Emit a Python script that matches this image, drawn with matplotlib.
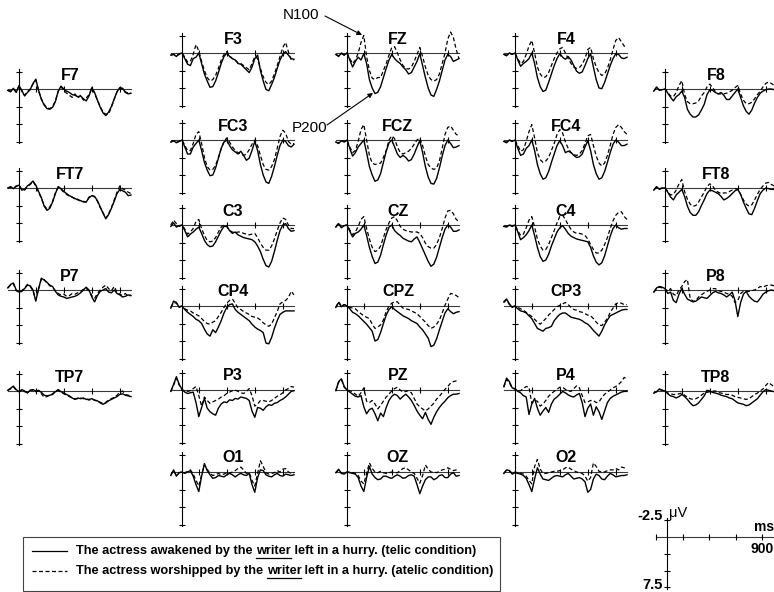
import matplotlib
matplotlib.use("Agg")
import matplotlib.pyplot as plt
from matplotlib.lines import Line2D
from matplotlib.patches import Rectangle, FancyArrowPatch

plt.rcParams['font.family'] = ['Liberation Sans', 'DejaVu Sans']

W, H = 774, 592

# sample times (ms), 25 ms steps
times = [-100, -75, -50, -25, 0, 25, 50, 75, 100, 125, 150, 175, 200, 225, 250,
         275, 300, 325, 350, 375, 400, 425, 450, 475, 500, 525, 550, 575, 600,
         625, 650, 675, 700, 725, 750, 775, 800, 825, 850, 875, 900, 925, 950,
         975, 1000]
xticks_ms = [150, 400, 650, 900]
yticks_uv = [-2.5, 2.5, 5.0, 7.5]

# grand averages in microvolts (negative up), telic = solid, atelic = dashed
F3_telic = [0.3, 0.2, 0.5, 0.1, 0.0, 0.8, 1.6, 1.8, 0.8, 0.6, 0.0, 1.5, 3.0, 4.0, 4.9, 4.8, 4.0, 2.8, 1.5, 0.5, 0.0, 0.5, 0.8, 1.0, 1.5, 1.6, 2.0, 2.4, 2.8, 2.0, 0.8, 0.3, 2.5, 4.0, 5.2, 5.4, 4.5, 3.5, 2.2, 1.0, 0.2, -0.2, 0.3, 0.8, 0.9]
F3_atelic = [0.3, 0.2, 0.4, 0.2, 0.0, 0.6, 1.3, 1.2, 0.2, -1.2, -0.3, 1.2, 2.5, 3.5, 4.0, 3.8, 3.2, 2.2, 1.0, 0.2, -0.2, 0.4, 0.8, 1.0, 1.4, 1.5, 1.8, 2.1, 2.4, 1.5, 0.5, 0.8, 2.2, 3.4, 4.2, 4.5, 4.0, 3.0, 1.8, 0.5, -0.8, -1.5, -0.2, 1.0, 1.0]
FZ_telic = [0.2, 0.5, 0.0, 0.3, 0.0, 1.0, 2.0, 1.2, 0.6, 1.0, 0.1, 1.5, 3.8, 5.0, 5.8, 5.6, 4.8, 3.5, 2.2, 1.0, 0.2, 0.8, 1.2, 1.5, 2.0, 2.4, 3.0, 2.8, 2.0, 1.2, 0.1, 1.8, 3.5, 5.0, 6.0, 6.2, 5.2, 4.0, 2.5, 1.0, 0.2, 0.5, 1.2, 1.0, 0.8]
FZ_atelic = [0.2, 0.4, 0.1, 0.3, 0.0, 0.8, 1.5, 1.0, 0.0, -1.5, -2.5, 0.5, 2.5, 3.6, 3.8, 3.5, 3.5, 2.5, 1.5, 0.3, -0.8, -0.9, 0.0, 1.0, 1.8, 2.2, 2.3, 2.0, 1.2, 0.2, -0.8, 0.5, 2.0, 3.2, 3.8, 4.0, 3.8, 3.0, 1.5, 0.0, -2.0, -3.0, -2.2, -0.5, 0.8]
F4_telic = [0.2, 0.4, 0.0, 0.2, 0.0, 1.0, 1.9, 1.5, 1.2, 0.8, 0.0, 1.5, 3.5, 4.8, 5.5, 5.3, 4.2, 3.0, 1.8, 0.8, 0.1, 0.6, 0.9, 0.5, 1.0, 1.8, 2.6, 2.9, 2.7, 1.8, 0.8, 0.1, 2.0, 3.8, 5.0, 5.1, 4.2, 3.0, 1.8, 0.8, 0.1, 0.2, 0.7, 0.8, 0.6]
F4_atelic = [0.2, 0.3, 0.0, 0.2, 0.0, 0.8, 1.5, 1.2, 0.2, -1.0, -1.8, 0.0, 2.0, 3.0, 3.5, 3.4, 2.8, 1.8, 0.8, 0.0, -0.6, -0.8, 0.0, 0.8, 1.5, 2.0, 2.2, 2.1, 1.6, 0.8, -0.5, -0.8, 0.8, 2.0, 2.8, 3.2, 3.0, 2.2, 1.0, -0.5, -1.8, -2.2, -1.6, -1.0, -0.8]
FC3_telic = [0.3, 0.1, 0.4, 0.2, 0.0, 1.0, 2.0, 2.0, 1.0, 0.5, 0.0, 1.5, 3.2, 4.3, 5.1, 5.0, 4.0, 2.6, 1.2, 0.3, 0.0, 0.8, 1.4, 1.7, 2.0, 1.6, 2.2, 2.9, 2.6, 1.5, 0.2, 1.5, 3.5, 5.0, 6.0, 6.2, 5.2, 3.8, 2.2, 0.8, 0.0, 0.2, 0.8, 1.0, 0.6]
FC3_atelic = [0.3, 0.1, 0.3, 0.2, 0.0, 0.8, 1.5, 1.5, 0.5, -0.8, -1.2, 0.5, 2.5, 3.8, 4.3, 4.2, 3.6, 2.5, 1.2, 0.2, -0.3, 0.3, 1.0, 1.5, 1.8, 2.0, 2.2, 2.0, 1.4, 0.6, 0.0, 0.8, 2.2, 3.5, 4.2, 4.3, 3.8, 2.8, 1.2, -0.5, -1.4, -1.0, 0.2, 0.6, 0.5]
FCZ_telic = [0.3, 0.5, 0.1, 0.3, 0.0, 1.2, 2.3, 1.8, 1.0, 0.5, 0.0, 1.8, 3.8, 5.0, 5.9, 5.7, 4.8, 3.2, 1.6, 0.4, 0.0, 1.0, 2.0, 2.5, 2.2, 2.5, 3.0, 2.8, 2.0, 1.0, 0.1, 1.8, 3.8, 5.3, 6.2, 6.3, 5.5, 4.0, 2.3, 0.8, 0.0, 0.5, 1.1, 1.0, 0.8]
FCZ_atelic = [0.3, 0.4, 0.1, 0.2, 0.0, 1.0, 1.8, 1.5, 0.2, -1.5, -2.2, 0.0, 2.2, 3.3, 3.5, 3.4, 3.3, 2.5, 1.5, 0.0, -0.6, -0.2, 1.0, 1.8, 2.0, 1.8, 1.6, 1.2, 0.6, 0.0, -0.3, 0.8, 2.3, 3.5, 4.0, 4.2, 4.0, 3.0, 1.2, -0.8, -1.8, -2.0, -1.4, -0.8, -0.6]
FC4_telic = [0.2, 0.4, 0.0, 0.2, 0.0, 1.2, 2.2, 2.0, 1.2, 0.8, 0.0, 1.5, 3.5, 4.8, 5.6, 5.4, 4.5, 3.2, 2.0, 0.8, 0.1, 0.8, 1.8, 1.6, 1.8, 2.2, 2.5, 2.4, 2.0, 1.0, 0.1, 1.5, 3.5, 4.8, 5.6, 5.4, 4.5, 3.2, 1.8, 0.6, 0.0, 0.3, 0.8, 0.8, 0.6]
FC4_atelic = [0.2, 0.3, 0.0, 0.2, 0.0, 0.8, 1.6, 1.4, 0.2, -1.2, -2.2, -0.3, 1.8, 2.8, 3.2, 3.0, 2.5, 1.5, 0.5, -0.8, -1.5, -1.0, 0.3, 1.2, 1.8, 2.1, 2.2, 2.0, 1.5, 0.5, -0.6, -0.8, 0.8, 2.3, 3.3, 3.7, 3.3, 2.2, 0.8, -0.8, -1.8, -2.2, -1.8, -1.2, -0.8]
C3_telic = [0.2, -0.3, 0.3, 0.1, 0.0, 0.8, 1.7, 1.3, 1.0, 0.6, 0.3, 1.2, 2.2, 2.8, 3.1, 3.0, 2.4, 1.6, 0.8, 0.2, 0.2, 0.8, 1.2, 1.0, 1.4, 1.6, 1.8, 1.9, 2.0, 2.1, 2.4, 3.0, 3.8, 4.9, 5.8, 6.0, 5.2, 3.8, 2.2, 0.8, 0.0, -0.2, 0.5, 0.9, 0.8]
C3_atelic = [0.0, -0.7, -0.2, 0.2, 0.0, 0.6, 1.3, 1.0, 0.5, -0.5, -0.8, 0.5, 1.5, 2.2, 2.4, 2.3, 1.8, 1.0, 0.3, 0.0, 0.2, 0.8, 1.0, 1.1, 1.0, 1.0, 1.2, 1.3, 1.4, 1.3, 1.2, 1.8, 2.6, 3.2, 3.6, 3.6, 3.0, 2.0, 0.8, -0.3, -1.0, -0.8, 0.0, 0.5, 0.5]
CZ_telic = [0.3, -0.2, 0.4, 0.1, 0.0, 0.9, 1.7, 1.2, 1.0, 0.6, 0.0, 1.5, 3.2, 4.5, 5.5, 5.3, 4.3, 2.8, 1.4, 0.3, 0.0, 0.8, 1.2, 1.5, 1.9, 2.1, 2.3, 2.4, 2.0, 1.7, 2.5, 3.4, 4.3, 5.2, 5.9, 5.6, 4.6, 3.2, 1.8, 0.6, 0.0, 0.3, 0.9, 0.9, 0.7]
CZ_atelic = [0.3, -0.3, 0.3, 0.1, 0.0, 0.7, 1.4, 1.0, 0.2, -0.8, -1.2, 0.5, 2.0, 3.2, 3.8, 3.6, 3.0, 1.8, 0.6, -0.3, -1.0, -1.2, -0.6, 0.2, 0.6, 0.8, 0.9, 1.0, 1.0, 1.0, 1.2, 1.8, 2.6, 3.1, 3.3, 3.3, 2.8, 1.8, 0.5, -1.0, -2.0, -2.1, -1.6, -0.8, -0.5]
C4_telic = [0.2, 0.3, 0.0, 0.2, 0.0, 1.0, 2.1, 1.8, 1.4, 0.8, 0.0, 1.5, 3.2, 4.5, 5.2, 5.0, 4.2, 3.0, 2.0, 1.0, 0.4, 0.1, 0.6, 1.2, 1.6, 1.8, 2.0, 2.1, 2.2, 2.3, 2.4, 3.2, 4.4, 5.3, 5.7, 5.4, 4.4, 3.0, 1.6, 0.5, 0.0, 0.4, 0.6, 0.5, 0.5]
C4_atelic = [0.2, 0.2, 0.0, 0.1, 0.0, 0.8, 1.5, 1.3, 0.4, -0.7, -1.2, 0.3, 2.0, 3.0, 3.6, 3.5, 2.8, 1.8, 0.8, -0.3, -1.2, -1.4, -0.8, 0.0, 0.6, 1.0, 1.2, 1.2, 1.3, 1.5, 2.0, 2.8, 3.5, 4.0, 4.0, 3.6, 2.8, 1.8, 0.5, -0.6, -1.4, -1.8, -1.9, -1.2, -0.8]
CP4_telic = [0.3, -0.7, -0.5, 0.2, 0.0, 0.5, 0.9, 1.2, 1.5, 1.9, 2.1, 2.5, 3.3, 4.0, 4.3, 3.4, 3.8, 3.0, 2.1, 1.0, 0.2, -0.2, -0.3, 0.5, 0.9, 1.2, 1.5, 1.8, 2.1, 2.6, 3.0, 3.3, 3.5, 3.8, 5.3, 5.4, 4.5, 3.2, 2.1, 1.2, 0.9, 0.7, 0.7, 0.7, 0.7]
CP4_atelic = [0.2, -0.5, -0.4, 0.1, 0.0, 0.4, 0.6, 0.7, 1.0, 1.2, 1.4, 1.8, 2.2, 2.5, 2.6, 2.3, 2.1, 1.5, 0.9, 0.2, -0.4, -0.8, -1.0, -0.4, 0.3, 0.5, 0.8, 1.0, 1.2, 1.5, 1.6, 1.7, 2.0, 2.4, 2.7, 2.9, 2.6, 1.7, 0.8, -0.3, -0.6, -0.8, -1.2, -2.1, -1.6]
CPZ_telic = [0.2, -0.5, 0.1, -0.2, 0.0, 0.4, 0.9, 1.1, 1.4, 1.8, 2.2, 2.6, 3.1, 3.6, 5.0, 4.8, 3.8, 2.5, 1.3, 0.5, 0.1, 0.5, 0.8, 1.1, 1.4, 1.6, 1.8, 2.1, 2.3, 2.5, 3.0, 3.4, 4.0, 4.6, 5.8, 5.6, 4.7, 3.4, 2.2, 1.0, 0.4, 0.8, 1.1, 0.9, 0.8]
CPZ_atelic = [0.2, -0.6, 0.0, -0.2, 0.0, 0.2, 0.3, 0.4, 0.8, 1.1, 1.4, 1.6, 1.8, 2.6, 3.2, 3.0, 2.7, 2.0, 0.8, 0.0, -0.4, -0.6, -0.6, -0.1, 0.3, 0.4, 0.5, 0.7, 0.9, 1.1, 1.5, 1.9, 2.3, 2.8, 3.2, 3.0, 2.6, 2.0, 1.0, -0.1, -1.0, -1.8, -1.7, -1.5, -1.2]
CP3_telic = [-0.6, -1.0, -0.3, 0.2, 0.0, 0.4, 0.7, 0.8, 1.0, 1.4, 1.8, 2.5, 3.2, 3.4, 3.6, 3.2, 3.1, 2.9, 2.1, 1.6, 1.2, 1.0, 1.0, 1.3, 1.6, 1.7, 1.8, 1.9, 2.1, 2.4, 2.6, 3.0, 3.5, 3.9, 4.3, 3.6, 2.7, 2.0, 1.4, 1.2, 1.0, 0.8, 0.6, 0.5, 0.5]
CP3_atelic = [-0.5, -0.9, -0.2, 0.1, 0.0, 0.2, 0.4, 0.6, 0.9, 1.2, 1.5, 1.9, 2.3, 2.6, 2.2, 1.8, 1.3, 0.9, 0.5, 0.1, -0.1, -0.3, -0.5, -0.2, 0.2, 0.5, 0.6, 0.8, 0.9, 1.1, 1.3, 1.4, 1.8, 2.3, 2.7, 2.8, 2.3, 1.8, 0.9, 0.3, -0.3, -0.5, -0.4, -0.2, -0.2]
P3_telic = [0.2, -0.8, -1.9, -0.8, -0.1, 0.3, 0.5, 0.4, 0.3, 1.8, 3.8, 2.5, 1.2, 2.6, 3.1, 3.4, 3.6, 2.6, 2.0, 1.7, 1.8, 1.4, 1.5, 1.2, 1.3, 1.0, 1.1, 1.2, 1.5, 3.0, 3.9, 2.5, 2.6, 2.9, 2.4, 2.1, 2.2, 1.9, 1.8, 1.5, 1.3, 1.0, 0.6, 0.2, 0.1]
P3_atelic = [0.2, -0.7, -1.7, -0.7, 0.0, 0.1, 0.2, 0.1, -0.2, -0.5, 0.8, 2.3, 1.0, 1.5, 1.9, 1.7, 1.5, 1.3, 1.0, 0.8, 0.5, 0.3, 0.1, 0.0, 0.2, 0.4, 0.5, 0.2, -0.2, 0.8, 2.3, 2.0, 1.5, 1.5, 1.6, 1.7, 1.5, 1.2, 0.9, 0.7, 0.4, 0.0, -0.2, -0.5, -0.4]
PZ_telic = [0.1, -1.2, -1.6, -0.5, 0.0, 0.3, 0.6, 0.9, 1.0, 0.8, 2.4, 3.4, 2.8, 2.6, 3.4, 4.4, 3.3, 3.8, 2.5, 1.5, 0.9, 0.6, 0.8, 1.3, 0.9, 0.6, 1.0, 1.5, 2.2, 3.0, 3.6, 4.1, 3.2, 4.2, 4.9, 3.9, 3.1, 2.5, 2.0, 1.6, 1.1, 0.8, 0.6, 0.6, 0.5]
PZ_atelic = [0.1, -1.1, -1.5, -0.4, 0.0, 0.1, 0.3, 0.6, 0.9, 0.4, -0.3, 1.6, 1.8, 1.5, 2.0, 2.7, 2.2, 1.6, 1.0, 0.6, 0.1, -0.2, -0.4, 0.0, 0.3, 0.2, 0.1, 0.4, 1.2, 2.0, 2.4, 2.7, 3.0, 2.7, 2.3, 1.9, 1.3, 0.9, 0.4, -0.1, -0.5, -1.0, -1.2, -1.3, -1.2]
P4_telic = [-0.5, -1.7, -1.2, -0.3, -0.2, 0.2, 0.4, 0.8, 1.0, 3.5, 2.0, 1.2, 2.6, 3.6, 3.0, 2.5, 3.2, 2.0, 1.3, 1.0, 0.6, 0.2, 0.4, 0.7, 0.9, 1.0, 0.7, 0.5, 1.8, 3.8, 2.6, 2.0, 3.6, 2.4, 3.1, 4.2, 3.0, 1.8, 1.2, 0.9, 0.7, 0.5, 0.3, 0.2, 0.2]
P4_atelic = [-0.4, -1.5, -1.0, -0.3, -0.1, 0.2, 0.1, -0.2, -0.5, -0.4, 1.9, 1.5, 1.6, 2.3, 2.0, 1.5, 0.9, 0.5, 0.2, -0.1, -0.4, -0.4, -0.1, 0.1, 0.2, -0.2, -0.6, -0.3, 0.8, 1.8, 1.7, 1.5, 1.5, 1.8, 1.7, 1.1, 0.6, 0.3, 0.0, -0.3, -0.5, -0.8, -1.2, -1.8, -1.6]
O1_telic = [0.5, -0.3, 0.6, 0.1, 0.0, 0.2, 0.0, -0.2, 0.6, 1.8, 2.8, 0.6, -1.2, -0.2, 0.4, 0.9, 0.8, 0.5, 0.6, 0.7, 0.4, 0.2, 0.4, 0.7, 0.4, 0.2, 0.4, 0.5, 0.2, 1.8, 2.9, 0.8, -0.3, -0.2, 0.4, 0.6, 0.7, 0.4, 0.2, 0.5, 0.6, 0.3, 0.4, 0.5, 0.4]
O1_atelic = [0.4, -0.2, 0.5, 0.1, 0.0, 0.1, -0.1, -0.3, 0.3, 1.2, 2.0, 0.4, -1.0, -0.4, 0.2, 0.5, 0.4, 0.2, 0.4, 0.3, 0.1, 0.2, 0.0, -0.2, -0.5, -0.7, -0.3, 0.2, 0.1, 1.2, 2.0, 0.2, -1.6, -0.8, 0.1, 0.3, 0.2, 0.1, -0.2, 0.0, -0.4, -0.5, 0.0, 0.2, 0.1]
OZ_telic = [0.1, -0.4, 0.2, 0.3, 0.0, 0.1, 0.2, 0.3, 0.8, 2.0, 2.8, 0.8, -0.8, 0.3, 0.8, 1.1, 1.0, 0.6, 0.6, 0.8, 0.9, 0.6, 0.4, 0.6, 0.9, 0.8, 0.5, 0.4, 0.6, 1.8, 3.1, 2.0, 1.1, 0.7, 0.7, 1.1, 0.9, 0.5, 0.4, 0.8, 0.8, 0.3, 0.1, 0.6, 0.5]
OZ_atelic = [0.1, -0.3, 0.2, 0.2, 0.0, 0.0, 0.1, 0.2, 0.5, 1.3, 1.7, 0.2, -1.3, -0.5, 0.0, 0.1, -0.1, 0.1, 0.2, 0.1, 0.0, 0.1, 0.1, -0.2, -0.5, -0.6, -0.3, 0.0, 0.2, 0.9, 1.6, 0.5, -1.0, -0.4, 0.0, 0.0, 0.1, -0.1, -0.3, -0.4, -0.6, -0.4, -0.2, -0.3, -0.2]
O2_telic = [0.2, -0.3, -0.2, 0.3, 0.1, 0.2, 0.3, 0.5, 0.9, 1.8, 2.8, 1.0, -0.6, 0.3, 1.0, 1.1, 1.2, 0.9, 0.6, 0.5, 0.6, 0.7, 0.4, 0.2, 0.6, 1.0, 0.9, 0.8, 1.0, 1.4, 2.9, 2.5, 1.0, 0.3, 0.5, 1.0, 1.1, 0.6, 0.2, 0.4, 0.7, 0.6, 0.5, 0.5, 0.4]
O2_atelic = [0.2, -0.3, -0.2, 0.2, 0.0, 0.1, 0.2, 0.3, 0.6, 1.2, 1.7, -0.8, -1.8, -0.4, 0.2, 0.2, 0.1, 0.0, -0.1, -0.1, -0.2, -0.3, -0.6, -0.7, -0.4, -0.2, 0.0, 0.1, 0.2, 0.6, 1.3, 0.8, -1.3, -0.8, -0.1, 0.0, 0.0, -0.2, -0.3, -0.3, -0.5, -0.3, -0.7, -0.6, -0.5]
F7_telic = [0.2, 0.4, -0.1, 0.5, -0.5, 0.2, 1.0, 0.5, 0.1, -0.8, -1.4, 0.2, 1.5, 2.3, 2.8, 2.9, 2.6, 1.8, 0.3, -0.4, 0.0, 0.3, 0.5, 0.8, 0.9, 1.1, 1.0, 1.4, 1.7, 1.0, -0.2, 0.5, 1.6, 2.6, 3.4, 3.8, 3.3, 2.5, 1.4, 0.4, -0.2, -0.1, 0.5, 0.7, 0.6]
F7_atelic = [0.2, 0.3, 0.0, 0.4, -0.4, 0.3, 0.9, 0.4, 0.0, -0.7, -1.3, 0.3, 1.4, 2.2, 2.7, 2.8, 2.5, 1.7, 0.3, -0.3, 0.2, 0.6, 0.9, 1.2, 0.7, 1.3, 0.9, 1.6, 1.3, 0.8, -0.1, 0.6, 1.6, 2.5, 3.3, 3.6, 3.6, 2.6, 1.5, 0.4, -0.1, 0.0, 0.4, 0.6, 0.6]
FT7_telic = [0.0, -0.2, 0.1, -0.3, -0.4, 0.3, 0.2, -0.3, -0.6, -1.0, -0.4, 0.5, 1.4, 2.6, 3.2, 2.9, 2.0, 0.8, -0.2, 0.1, 0.5, 0.8, 1.1, 1.3, 1.5, 1.7, 1.8, 2.0, 2.0, 1.4, 1.1, 1.2, 1.8, 2.7, 3.6, 4.4, 3.8, 2.9, 1.9, 0.8, 0.2, 0.4, 0.6, 1.1, 1.0]
FT7_atelic = [0.0, -0.1, 0.0, -0.2, -0.4, 0.2, 0.3, -0.2, -0.5, -0.9, -0.3, 0.6, 1.5, 2.5, 3.0, 2.7, 1.9, 0.7, -0.1, 0.2, 0.6, 0.9, 1.2, 1.3, 1.6, 1.6, 1.9, 1.9, 2.0, 1.3, 1.0, 1.3, 1.9, 2.8, 3.5, 4.3, 3.7, 2.8, 1.7, 0.6, -0.3, 0.1, 0.3, 0.6, 0.8]
P7_telic = [-0.3, -0.8, -1.0, 0.0, 0.3, 0.2, -0.2, -0.7, -0.6, 0.0, 1.6, -0.2, -1.7, -1.4, -1.1, -0.7, -0.5, 0.2, 0.7, 0.9, 1.0, 1.2, 1.1, 1.0, 0.9, 0.7, 0.4, 0.0, -0.4, 0.0, 1.0, 1.7, 0.8, 0.2, 0.0, -0.2, 0.3, 0.4, 0.0, 0.5, 0.7, 1.0, 0.9, 0.7, 0.8]
P7_atelic = [-0.3, -0.7, -0.9, 0.1, 0.3, 0.1, -0.3, -0.8, -0.5, 0.1, 1.4, -0.1, -1.6, -1.5, -1.0, -0.6, -0.4, 0.1, 0.5, 0.7, 0.6, 0.9, 0.8, 0.5, 0.6, 0.4, 0.2, -0.1, -0.2, 0.1, 0.8, 1.2, 0.5, 0.0, -0.4, -0.7, -0.2, 0.1, -0.5, 0.3, 0.6, 0.8, 0.5, 0.9, 0.7]
TP7_telic = [-0.1, -0.4, -0.7, -0.2, 0.1, -0.2, 0.0, 0.3, -0.1, -0.2, 0.0, -0.1, 0.2, 0.6, 0.7, 0.6, 0.5, 0.1, -0.2, 0.1, 0.3, 0.5, 0.7, 1.0, 1.2, 1.0, 1.1, 1.0, 1.2, 1.2, 1.1, 1.3, 1.4, 1.7, 1.9, 1.7, 1.4, 1.2, 1.0, 0.8, 0.5, 0.4, 0.6, 0.7, 0.8]
TP7_atelic = [-0.1, -0.3, -0.6, -0.1, 0.1, -0.1, 0.1, 0.2, -0.1, -0.1, 0.1, 0.0, 0.4, 0.9, 0.8, 0.6, 0.4, 0.0, -0.1, 0.2, 0.4, 0.6, 0.8, 1.0, 1.1, 1.1, 1.0, 1.1, 1.1, 1.3, 1.2, 1.3, 1.5, 1.6, 1.8, 1.6, 1.3, 1.1, 0.9, 0.6, 0.2, 0.0, 0.5, 0.6, 0.7]
F8_telic = [0.3, -0.3, 0.2, 0.1, 0.0, 0.6, 1.2, 1.7, 1.1, 0.8, 0.3, 1.2, 2.9, 3.6, 4.0, 4.0, 3.7, 3.0, 2.2, 0.8, 0.1, 0.2, 0.5, 0.7, 0.5, 0.9, 1.5, 1.5, 1.0, 0.5, 0.0, 1.2, 2.4, 3.2, 3.6, 3.0, 2.0, 1.2, 0.6, 0.3, 0.1, 0.0, 0.0, 0.1, 0.2]
F8_atelic = [0.3, -0.2, 0.1, 0.1, 0.0, 0.5, 1.0, 1.1, 0.5, -0.5, -1.2, 0.8, 1.8, 2.1, 2.1, 2.0, 1.7, 1.0, 0.5, -0.3, -0.7, -0.2, 0.4, 0.7, 0.7, 0.7, 0.6, 0.4, 0.2, -0.2, -0.5, 0.7, 1.6, 2.1, 2.1, 1.9, 1.4, 0.8, 0.3, -0.3, -0.8, -1.0, -0.8, -0.5, -0.3]
FT8_telic = [0.3, -0.2, 0.2, 0.0, 0.0, 0.6, 1.3, 1.7, 1.0, 0.6, 0.2, 1.2, 2.6, 3.5, 3.9, 3.9, 3.4, 2.5, 1.7, 0.8, 0.3, 0.4, 0.6, 0.8, 1.2, 1.7, 1.5, 1.2, 0.8, 0.4, 0.2, 0.9, 2.0, 2.9, 3.7, 3.8, 2.9, 1.8, 0.8, 0.3, 0.0, 0.1, 0.2, 0.2, 0.3]
FT8_atelic = [0.3, -0.1, 0.1, 0.0, 0.0, 0.5, 1.0, 0.9, 0.3, -0.6, -1.2, 0.5, 1.6, 2.3, 2.6, 2.5, 2.0, 1.3, 0.6, -0.2, -0.6, -0.3, 0.3, 0.6, 0.8, 0.7, 0.7, 0.5, 0.3, 0.1, 0.2, 0.9, 1.7, 2.3, 2.6, 2.4, 1.7, 0.9, 0.2, -0.3, -0.7, -0.8, -0.5, -0.3, -0.2]
P8_telic = [0.3, -0.3, -0.5, -0.4, -0.2, 0.5, 0.3, 1.5, 1.8, 0.6, -0.2, 0.6, 1.3, 1.5, 1.7, 1.6, 1.3, 1.0, 1.1, 1.2, 0.8, 0.4, 0.2, 0.4, 0.5, 0.7, 1.0, 0.7, 0.3, 1.5, 3.8, 1.8, 0.6, 0.2, 0.9, 1.3, 1.6, 1.7, 1.2, 0.6, 0.3, 0.1, 0.0, 0.1, 0.2]
P8_atelic = [0.3, -0.2, -0.4, -0.3, -0.2, 0.2, -0.2, 0.6, 0.8, 0.0, -0.5, -1.2, -1.5, 1.2, 1.6, 1.5, 1.0, 0.7, 0.4, 0.2, 0.0, -0.2, -0.2, 0.1, 0.2, 0.3, 0.5, 0.6, 0.9, 1.8, 1.5, 0.5, 0.2, 0.2, 0.2, 0.1, 0.0, -0.2, -0.5, -0.4, -0.6, -0.7, -0.7, -0.6, -0.6]
TP8_telic = [0.3, 0.1, -0.3, -0.1, 0.0, 0.4, 0.7, 0.8, 1.0, 0.8, 0.5, 0.8, 1.2, 1.7, 2.1, 2.0, 1.7, 1.2, 0.7, -0.1, 0.0, 0.2, 0.3, 0.4, 0.6, 0.7, 0.8, 1.0, 1.1, 1.4, 1.7, 1.8, 1.9, 2.1, 2.0, 1.7, 1.4, 1.1, 0.6, 0.1, -0.2, -0.1, 0.0, 0.1, 0.1]
TP8_atelic = [0.3, 0.1, -0.2, -0.1, 0.0, 0.3, 0.4, 0.5, 0.5, 0.4, 0.3, 0.6, 0.9, 1.1, 1.2, 1.1, 0.9, 0.6, 0.3, 0.2, 0.1, 0.0, 0.0, 0.2, 0.3, 0.4, 0.5, 0.5, 0.6, 0.8, 0.9, 1.0, 1.1, 1.2, 1.1, 0.8, 0.5, 0.3, 0.0, -0.3, -0.8, -1.2, -0.9, -0.6, -0.5]

# electrode grid: (label, telic, atelic, axis x px, baseline y px)
mid_rows = [53, 140, 225, 306, 390, 472]
side_rows = [89, 188, 290, 391]
panels = []
for (x, col) in [(182, [("F3", F3_telic, F3_atelic), ("FC3", FC3_telic, FC3_atelic),
                         ("C3", C3_telic, C3_atelic), ("CP4", CP4_telic, CP4_atelic),
                         ("P3", P3_telic, P3_atelic), ("O1", O1_telic, O1_atelic)]),
                 (347, [("FZ", FZ_telic, FZ_atelic), ("FCZ", FCZ_telic, FCZ_atelic),
                        ("CZ", CZ_telic, CZ_atelic), ("CPZ", CPZ_telic, CPZ_atelic),
                        ("PZ", PZ_telic, PZ_atelic), ("OZ", OZ_telic, OZ_atelic)]),
                 (515, [("F4", F4_telic, F4_atelic), ("FC4", FC4_telic, FC4_atelic),
                        ("C4", C4_telic, C4_atelic), ("CP3", CP3_telic, CP3_atelic),
                        ("P4", P4_telic, P4_atelic), ("O2", O2_telic, O2_atelic)])]:
    for (name, a, b), y in zip(col, mid_rows):
        panels.append((name, a, b, x, y))
for (x, col) in [(19, [("F7", F7_telic, F7_atelic), ("FT7", FT7_telic, FT7_atelic),
                       ("P7", P7_telic, P7_atelic), ("TP7", TP7_telic, TP7_atelic)]),
                 (665, [("F8", F8_telic, F8_atelic), ("FT8", FT8_telic, FT8_atelic),
                        ("P8", P8_telic, P8_atelic), ("TP8", TP8_telic, TP8_atelic)])]:
    for (name, a, b), y in zip(col, side_rows):
        panels.append((name, a, b, x, y))

fig = plt.figure(figsize=(W / 100, H / 100), dpi=100)


def add_frame(ox, oy, kx, ky, x0=-100, x1=1010, y0=-3.6, y1=7.8):
    left = ox + x0 * kx
    top = oy + y0 * ky
    ax = fig.add_axes([left / W, 1 - (top + (y1 - y0) * ky) / H,
                       (x1 - x0) * kx / W, (y1 - y0) * ky / H])
    ax.set_xlim(x0, x1)
    ax.set_ylim(y1, y0)
    ax.axis('off')
    return ax


def draw_axes(ax, xend, yticks):
    ax.plot([-100, xend], [0, 0], color='#3a3a3a', lw=0.8, clip_on=False)
    ax.plot([0, 0], [-2.8, 7.7], color='k', lw=0.8, clip_on=False)
    ax.plot([0] * len(yticks), yticks, ls='none', marker='_', ms=4.5,
            mew=0.8, color='k', clip_on=False)


kx, ky = 0.112, 7.0
for name, telic, atelic, ox, oy in panels:
    ax = add_frame(ox, oy, kx, ky)
    draw_axes(ax, 1000, yticks_uv)
    ax.plot(xticks_ms, [0] * 4, ls='none', marker='|', ms=4.5, mew=0.8,
            color='k', clip_on=False)
    ax.plot(times, telic, color='k', lw=1.0, clip_on=False)
    ax.plot(times, atelic, color='k', lw=0.9, ls=(0, (3.2, 2.0)), clip_on=False)
    ax.text(455, -2.0, name, ha='center', va='center', fontsize=11.5,
            fontweight='bold')

# calibration axes
cal = add_frame(667, 537, 0.1056, 6.7, x1=1030)
draw_axes(cal, 1030, yticks_uv)
cal.plot([-100] + xticks_ms, [0] * 5, ls='none', marker='|', ms=4.5, mew=0.8,
         color='k', clip_on=False)
fig.text(663 / W, 1 - 516 / H, "-2.5", ha='right', va='center', fontsize=10.5,
         fontweight='bold')
fig.text(663 / W, 1 - 585 / H, "7.5", ha='right', va='center', fontsize=10.5,
         fontweight='bold')
fig.text(669 / W, 1 - 513 / H, "\u03bcV", ha='left', va='center', fontsize=10.5)
fig.text(774 / W, 1 - 527 / H, "ms", ha='right', va='center', fontsize=10,
         fontweight='bold')
fig.text(774 / W, 1 - 549 / H, "900", ha='right', va='center', fontsize=10,
         fontweight='bold')

# component annotations
fig.text(283 / W, 1 - 15 / H, "N100", ha='left', va='center', fontsize=11)
fig.text(292 / W, 1 - 128 / H, "P200", ha='left', va='center', fontsize=11)
arrow = dict(arrowstyle='-|>', lw=0.8, color='k', mutation_scale=7,
             shrinkA=0, shrinkB=0)
fig.add_artist(FancyArrowPatch((325 / W, 1 - 16 / H), (362 / W, 1 - 35 / H),
                               transform=fig.transFigure, **arrow))
fig.add_artist(FancyArrowPatch((327 / W, 1 - 125 / H), (373 / W, 1 - 93 / H),
                               transform=fig.transFigure, **arrow))

# legend with underlined "writer"
renderer = fig.canvas.get_renderer()
legend_lines = [
    ("-", "The actress awakened by the ", " left in a hurry. (telic condition)", 551),
    ((0, (3.2, 2.0)), "The actress worshipped by the ", " left in a hurry. (atelic condition)", 571),
]
right_edge = 0
for style, before, after, ly in legend_lines:
    fig.add_artist(Line2D([32 / W, 67 / W], [1 - ly / H] * 2, color='k', lw=0.9,
                          ls=style, transform=fig.transFigure))
    x = 76
    for part, under in [(before, False), ("writer", True), (after, False)]:
        t = fig.text(x / W, 1 - ly / H, part, ha='left', va='center', fontsize=9.2,
                     fontweight='bold')
        bb = t.get_window_extent(renderer)
        if under:
            fig.add_artist(Line2D([x / W, (x + bb.width) / W],
                                  [1 - (ly + 7) / H] * 2, color='k', lw=0.9,
                                  transform=fig.transFigure))
        x += bb.width
    right_edge = max(right_edge, x)
fig.add_artist(Rectangle((23 / W, 1 - 591 / H), (right_edge + 6 - 23) / W,
                         54 / H, fill=False, lw=0.8, edgecolor='#444',
                         transform=fig.transFigure))

fig.savefig("out.png", dpi=100)
